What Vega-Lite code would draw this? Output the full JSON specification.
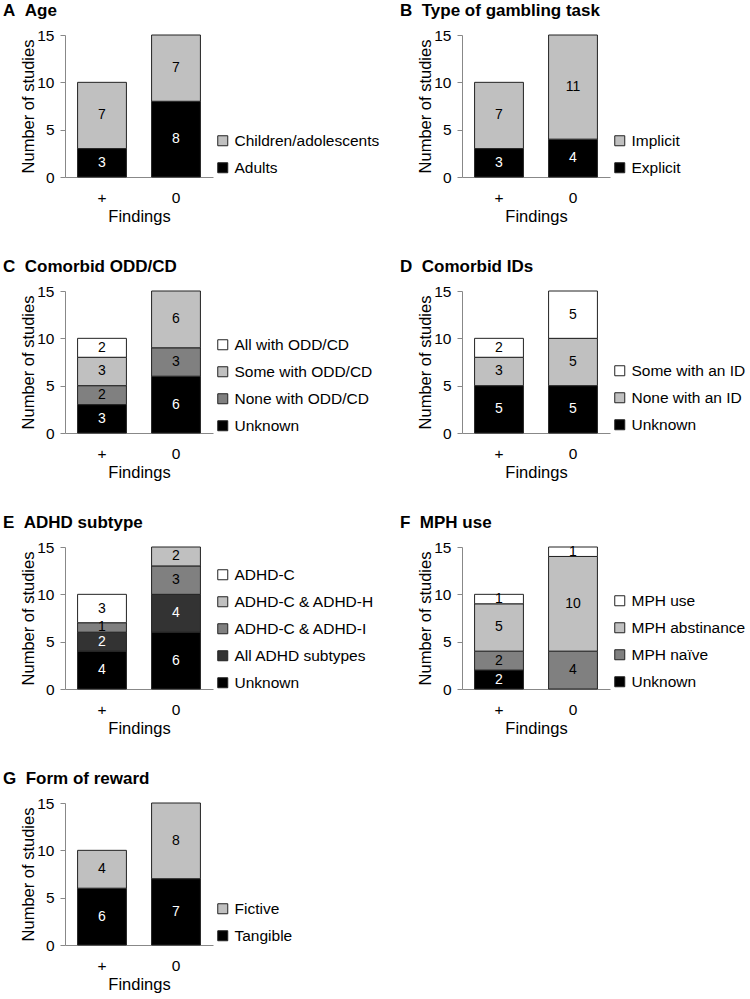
{
  "$schema": "https://vega.github.io/schema/vega-lite/v6.json",
  "padding": {"left": 3, "top": 2, "right": 0, "bottom": 0},
  "background": "white",
  "data": {"values": [
    {"panel": "A", "finding": "+", "category": "Adults", "rank": 1, "n": 3},
    {"panel": "A", "finding": "+", "category": "Children/adolescents", "rank": 2, "n": 7},
    {"panel": "A", "finding": "0", "category": "Adults", "rank": 1, "n": 8},
    {"panel": "A", "finding": "0", "category": "Children/adolescents", "rank": 2, "n": 7},
    {"panel": "B", "finding": "+", "category": "Explicit", "rank": 1, "n": 3},
    {"panel": "B", "finding": "+", "category": "Implicit", "rank": 2, "n": 7},
    {"panel": "B", "finding": "0", "category": "Explicit", "rank": 1, "n": 4},
    {"panel": "B", "finding": "0", "category": "Implicit", "rank": 2, "n": 11},
    {"panel": "C", "finding": "+", "category": "Unknown", "rank": 1, "n": 3},
    {"panel": "C", "finding": "+", "category": "None with ODD/CD", "rank": 2, "n": 2},
    {"panel": "C", "finding": "+", "category": "Some with ODD/CD", "rank": 3, "n": 3},
    {"panel": "C", "finding": "+", "category": "All with ODD/CD", "rank": 4, "n": 2},
    {"panel": "C", "finding": "0", "category": "Unknown", "rank": 1, "n": 6},
    {"panel": "C", "finding": "0", "category": "None with ODD/CD", "rank": 2, "n": 3},
    {"panel": "C", "finding": "0", "category": "Some with ODD/CD", "rank": 3, "n": 6},
    {"panel": "D", "finding": "+", "category": "Unknown", "rank": 1, "n": 5},
    {"panel": "D", "finding": "+", "category": "None with an ID", "rank": 2, "n": 3},
    {"panel": "D", "finding": "+", "category": "Some with an ID", "rank": 3, "n": 2},
    {"panel": "D", "finding": "0", "category": "Unknown", "rank": 1, "n": 5},
    {"panel": "D", "finding": "0", "category": "None with an ID", "rank": 2, "n": 5},
    {"panel": "D", "finding": "0", "category": "Some with an ID", "rank": 3, "n": 5},
    {"panel": "E", "finding": "+", "category": "Unknown", "rank": 1, "n": 4},
    {"panel": "E", "finding": "+", "category": "All ADHD subtypes", "rank": 2, "n": 2},
    {"panel": "E", "finding": "+", "category": "ADHD-C & ADHD-I", "rank": 3, "n": 1},
    {"panel": "E", "finding": "+", "category": "ADHD-C", "rank": 5, "n": 3},
    {"panel": "E", "finding": "0", "category": "Unknown", "rank": 1, "n": 6},
    {"panel": "E", "finding": "0", "category": "All ADHD subtypes", "rank": 2, "n": 4},
    {"panel": "E", "finding": "0", "category": "ADHD-C & ADHD-I", "rank": 3, "n": 3},
    {"panel": "E", "finding": "0", "category": "ADHD-C & ADHD-H", "rank": 4, "n": 2},
    {"panel": "F", "finding": "+", "category": "Unknown", "rank": 1, "n": 2},
    {"panel": "F", "finding": "+", "category": "MPH naïve", "rank": 2, "n": 2},
    {"panel": "F", "finding": "+", "category": "MPH abstinance", "rank": 3, "n": 5},
    {"panel": "F", "finding": "+", "category": "MPH use", "rank": 4, "n": 1},
    {"panel": "F", "finding": "0", "category": "MPH naïve", "rank": 2, "n": 4},
    {"panel": "F", "finding": "0", "category": "MPH abstinance", "rank": 3, "n": 10},
    {"panel": "F", "finding": "0", "category": "MPH use", "rank": 4, "n": 1},
    {"panel": "G", "finding": "+", "category": "Tangible", "rank": 1, "n": 6},
    {"panel": "G", "finding": "+", "category": "Fictive", "rank": 2, "n": 4},
    {"panel": "G", "finding": "0", "category": "Tangible", "rank": 1, "n": 7},
    {"panel": "G", "finding": "0", "category": "Fictive", "rank": 2, "n": 8}
  ]},
  "columns": 2,
  "bounds": "flush",
  "spacing": {"row": 114, "column": 249},
  "resolve": {"scale": {"color": "independent", "x": "independent", "y": "independent"}, "legend": {"color": "independent"}},
  "concat": [
    {
      "title": "A\u00a0\u00a0Age",
      "width": 148, "height": 142,
      "transform": [{"filter": "datum.panel === 'A'"}],
      "layer": [
        {"mark": {"type": "bar", "stroke": "#222222", "strokeWidth": 1},
         "encoding": {
           "x": {"field": "finding", "type": "nominal", "title": "Findings", "sort": ["+", "0"], "scale": {"domain": ["+", "0"], "paddingInner": 0.34, "paddingOuter": 0.17}},
           "y": {"field": "n", "type": "quantitative", "stack": "zero", "title": "Number of studies", "scale": {"domain": [0, 15], "nice": false}},
           "color": {"field": "category", "type": "nominal", "scale": {"domain": ["Children/adolescents", "Adults"], "range": ["#c0c0c0", "#000000"]}, "legend": {"title": null, "orient": "none", "legendX": 150, "legendY": 98}},
           "order": {"field": "rank", "type": "quantitative"}
         }},
        {"transform": [{"stack": "n", "groupby": ["finding"], "sort": [{"field": "rank", "order": "ascending"}], "as": ["lo", "hi"]}, {"fold": ["lo", "hi"], "as": ["edge", "pos"]}],
         "mark": {"type": "text", "fontSize": 14},
         "encoding": {
           "x": {"field": "finding", "type": "nominal", "title": "Findings"},
           "y": {"aggregate": "mean", "field": "pos", "type": "quantitative", "stack": null, "title": "Number of studies"},
           "detail": {"field": "category"},
           "text": {"field": "n", "type": "quantitative"},
           "color": {"condition": {"test": "indexof(['Adults','Explicit','Unknown','All ADHD subtypes','Tangible'], datum.category) >= 0", "value": "white"}, "value": "black"}
         }}
      ]
    },
    {
      "title": "B\u00a0\u00a0Type of gambling task",
      "width": 148, "height": 142,
      "transform": [{"filter": "datum.panel === 'B'"}],
      "layer": [
        {"mark": {"type": "bar", "stroke": "#222222", "strokeWidth": 1},
         "encoding": {
           "x": {"field": "finding", "type": "nominal", "title": "Findings", "sort": ["+", "0"], "scale": {"domain": ["+", "0"], "paddingInner": 0.34, "paddingOuter": 0.17}},
           "y": {"field": "n", "type": "quantitative", "stack": "zero", "title": "Number of studies", "scale": {"domain": [0, 15], "nice": false}},
           "color": {"field": "category", "type": "nominal", "scale": {"domain": ["Implicit", "Explicit"], "range": ["#c0c0c0", "#000000"]}, "legend": {"title": null, "orient": "none", "legendX": 150, "legendY": 98}},
           "order": {"field": "rank", "type": "quantitative"}
         }},
        {"transform": [{"stack": "n", "groupby": ["finding"], "sort": [{"field": "rank", "order": "ascending"}], "as": ["lo", "hi"]}, {"fold": ["lo", "hi"], "as": ["edge", "pos"]}],
         "mark": {"type": "text", "fontSize": 14},
         "encoding": {
           "x": {"field": "finding", "type": "nominal", "title": "Findings"},
           "y": {"aggregate": "mean", "field": "pos", "type": "quantitative", "stack": null, "title": "Number of studies"},
           "detail": {"field": "category"},
           "text": {"field": "n", "type": "quantitative"},
           "color": {"condition": {"test": "indexof(['Adults','Explicit','Unknown','All ADHD subtypes','Tangible'], datum.category) >= 0", "value": "white"}, "value": "black"}
         }}
      ]
    },
    {
      "title": "C\u00a0\u00a0Comorbid ODD/CD",
      "width": 148, "height": 142,
      "transform": [{"filter": "datum.panel === 'C'"}],
      "layer": [
        {"mark": {"type": "bar", "stroke": "#222222", "strokeWidth": 1},
         "encoding": {
           "x": {"field": "finding", "type": "nominal", "title": "Findings", "sort": ["+", "0"], "scale": {"domain": ["+", "0"], "paddingInner": 0.34, "paddingOuter": 0.17}},
           "y": {"field": "n", "type": "quantitative", "stack": "zero", "title": "Number of studies", "scale": {"domain": [0, 15], "nice": false}},
           "color": {"field": "category", "type": "nominal", "scale": {"domain": ["All with ODD/CD", "Some with ODD/CD", "None with ODD/CD", "Unknown"], "range": ["#ffffff", "#c0c0c0", "#808080", "#000000"]}, "legend": {"title": null, "orient": "none", "legendX": 150, "legendY": 46}},
           "order": {"field": "rank", "type": "quantitative"}
         }},
        {"transform": [{"stack": "n", "groupby": ["finding"], "sort": [{"field": "rank", "order": "ascending"}], "as": ["lo", "hi"]}, {"fold": ["lo", "hi"], "as": ["edge", "pos"]}],
         "mark": {"type": "text", "fontSize": 14},
         "encoding": {
           "x": {"field": "finding", "type": "nominal", "title": "Findings"},
           "y": {"aggregate": "mean", "field": "pos", "type": "quantitative", "stack": null, "title": "Number of studies"},
           "detail": {"field": "category"},
           "text": {"field": "n", "type": "quantitative"},
           "color": {"condition": {"test": "indexof(['Adults','Explicit','Unknown','All ADHD subtypes','Tangible'], datum.category) >= 0", "value": "white"}, "value": "black"}
         }}
      ]
    },
    {
      "title": "D\u00a0\u00a0Comorbid IDs",
      "width": 148, "height": 142,
      "transform": [{"filter": "datum.panel === 'D'"}],
      "layer": [
        {"mark": {"type": "bar", "stroke": "#222222", "strokeWidth": 1},
         "encoding": {
           "x": {"field": "finding", "type": "nominal", "title": "Findings", "sort": ["+", "0"], "scale": {"domain": ["+", "0"], "paddingInner": 0.34, "paddingOuter": 0.17}},
           "y": {"field": "n", "type": "quantitative", "stack": "zero", "title": "Number of studies", "scale": {"domain": [0, 15], "nice": false}},
           "color": {"field": "category", "type": "nominal", "scale": {"domain": ["Some with an ID", "None with an ID", "Unknown"], "range": ["#ffffff", "#c0c0c0", "#000000"]}, "legend": {"title": null, "orient": "none", "legendX": 150, "legendY": 72}},
           "order": {"field": "rank", "type": "quantitative"}
         }},
        {"transform": [{"stack": "n", "groupby": ["finding"], "sort": [{"field": "rank", "order": "ascending"}], "as": ["lo", "hi"]}, {"fold": ["lo", "hi"], "as": ["edge", "pos"]}],
         "mark": {"type": "text", "fontSize": 14},
         "encoding": {
           "x": {"field": "finding", "type": "nominal", "title": "Findings"},
           "y": {"aggregate": "mean", "field": "pos", "type": "quantitative", "stack": null, "title": "Number of studies"},
           "detail": {"field": "category"},
           "text": {"field": "n", "type": "quantitative"},
           "color": {"condition": {"test": "indexof(['Adults','Explicit','Unknown','All ADHD subtypes','Tangible'], datum.category) >= 0", "value": "white"}, "value": "black"}
         }}
      ]
    },
    {
      "title": "E\u00a0\u00a0ADHD subtype",
      "width": 148, "height": 142,
      "transform": [{"filter": "datum.panel === 'E'"}],
      "layer": [
        {"mark": {"type": "bar", "stroke": "#222222", "strokeWidth": 1},
         "encoding": {
           "x": {"field": "finding", "type": "nominal", "title": "Findings", "sort": ["+", "0"], "scale": {"domain": ["+", "0"], "paddingInner": 0.34, "paddingOuter": 0.17}},
           "y": {"field": "n", "type": "quantitative", "stack": "zero", "title": "Number of studies", "scale": {"domain": [0, 15], "nice": false}},
           "color": {"field": "category", "type": "nominal", "scale": {"domain": ["ADHD-C", "ADHD-C & ADHD-H", "ADHD-C & ADHD-I", "All ADHD subtypes", "Unknown"], "range": ["#ffffff", "#c0c0c0", "#808080", "#333333", "#000000"]}, "legend": {"title": null, "orient": "none", "legendX": 150, "legendY": 20}},
           "order": {"field": "rank", "type": "quantitative"}
         }},
        {"transform": [{"stack": "n", "groupby": ["finding"], "sort": [{"field": "rank", "order": "ascending"}], "as": ["lo", "hi"]}, {"fold": ["lo", "hi"], "as": ["edge", "pos"]}],
         "mark": {"type": "text", "fontSize": 14},
         "encoding": {
           "x": {"field": "finding", "type": "nominal", "title": "Findings"},
           "y": {"aggregate": "mean", "field": "pos", "type": "quantitative", "stack": null, "title": "Number of studies"},
           "detail": {"field": "category"},
           "text": {"field": "n", "type": "quantitative"},
           "color": {"condition": {"test": "indexof(['Adults','Explicit','Unknown','All ADHD subtypes','Tangible'], datum.category) >= 0", "value": "white"}, "value": "black"}
         }}
      ]
    },
    {
      "title": "F\u00a0\u00a0MPH use",
      "width": 148, "height": 142,
      "transform": [{"filter": "datum.panel === 'F'"}],
      "layer": [
        {"mark": {"type": "bar", "stroke": "#222222", "strokeWidth": 1},
         "encoding": {
           "x": {"field": "finding", "type": "nominal", "title": "Findings", "sort": ["+", "0"], "scale": {"domain": ["+", "0"], "paddingInner": 0.34, "paddingOuter": 0.17}},
           "y": {"field": "n", "type": "quantitative", "stack": "zero", "title": "Number of studies", "scale": {"domain": [0, 15], "nice": false}},
           "color": {"field": "category", "type": "nominal", "scale": {"domain": ["MPH use", "MPH abstinance", "MPH naïve", "Unknown"], "range": ["#ffffff", "#c0c0c0", "#808080", "#000000"]}, "legend": {"title": null, "orient": "none", "legendX": 150, "legendY": 46}},
           "order": {"field": "rank", "type": "quantitative"}
         }},
        {"transform": [{"stack": "n", "groupby": ["finding"], "sort": [{"field": "rank", "order": "ascending"}], "as": ["lo", "hi"]}, {"fold": ["lo", "hi"], "as": ["edge", "pos"]}],
         "mark": {"type": "text", "fontSize": 14},
         "encoding": {
           "x": {"field": "finding", "type": "nominal", "title": "Findings"},
           "y": {"aggregate": "mean", "field": "pos", "type": "quantitative", "stack": null, "title": "Number of studies"},
           "detail": {"field": "category"},
           "text": {"field": "n", "type": "quantitative"},
           "color": {"condition": {"test": "indexof(['Adults','Explicit','Unknown','All ADHD subtypes','Tangible'], datum.category) >= 0", "value": "white"}, "value": "black"}
         }}
      ]
    },
    {
      "title": "G\u00a0\u00a0Form of reward",
      "width": 148, "height": 142,
      "transform": [{"filter": "datum.panel === 'G'"}],
      "layer": [
        {"mark": {"type": "bar", "stroke": "#222222", "strokeWidth": 1},
         "encoding": {
           "x": {"field": "finding", "type": "nominal", "title": "Findings", "sort": ["+", "0"], "scale": {"domain": ["+", "0"], "paddingInner": 0.34, "paddingOuter": 0.17}},
           "y": {"field": "n", "type": "quantitative", "stack": "zero", "title": "Number of studies", "scale": {"domain": [0, 15], "nice": false}},
           "color": {"field": "category", "type": "nominal", "scale": {"domain": ["Fictive", "Tangible"], "range": ["#c0c0c0", "#000000"]}, "legend": {"title": null, "orient": "none", "legendX": 150, "legendY": 98}},
           "order": {"field": "rank", "type": "quantitative"}
         }},
        {"transform": [{"stack": "n", "groupby": ["finding"], "sort": [{"field": "rank", "order": "ascending"}], "as": ["lo", "hi"]}, {"fold": ["lo", "hi"], "as": ["edge", "pos"]}],
         "mark": {"type": "text", "fontSize": 14},
         "encoding": {
           "x": {"field": "finding", "type": "nominal", "title": "Findings"},
           "y": {"aggregate": "mean", "field": "pos", "type": "quantitative", "stack": null, "title": "Number of studies"},
           "detail": {"field": "category"},
           "text": {"field": "n", "type": "quantitative"},
           "color": {"condition": {"test": "indexof(['Adults','Explicit','Unknown','All ADHD subtypes','Tangible'], datum.category) >= 0", "value": "white"}, "value": "black"}
         }}
      ]
    }
  ],
  "config": {
    "font": "Liberation Sans",
    "view": {"stroke": null},
    "axis": {"labelFont": "Liberation Sans", "labelFontSize": 15.5, "labelColor": "black", "titleFont": "Liberation Sans", "titleFontSize": 16.5, "titleFontWeight": "normal", "titleColor": "black", "domainColor": "#888888", "tickColor": "#888888", "grid": false},
    "axisY": {"tickSize": 5, "labelPadding": 6, "titlePadding": 0, "values": [0, 5, 10, 15]},
    "axisX": {"ticks": false, "labelPadding": 13, "titlePadding": 3, "labelAngle": 0},
    "legend": {"labelFont": "Liberation Sans", "labelFontSize": 15.5, "labelColor": "black", "symbolType": "square", "symbolSize": 100, "symbolStrokeColor": "#222222", "symbolStrokeWidth": 1, "symbolOpacity": 1, "rowPadding": 10, "labelOffset": 4, "padding": 0, "labelLimit": 300},
    "title": {"font": "Liberation Sans", "fontSize": 17, "fontWeight": "bold", "anchor": "start", "frame": "group", "dx": -62, "offset": 8, "color": "black"}
  }
}
